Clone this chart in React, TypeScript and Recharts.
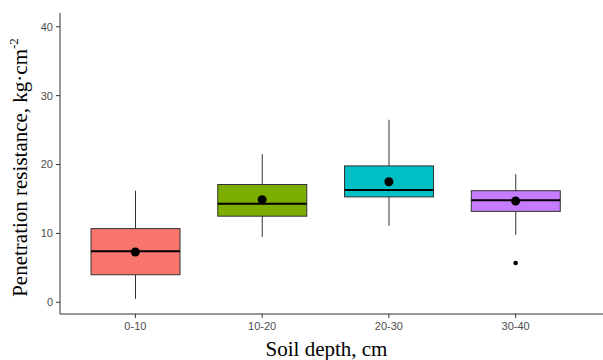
import React from "react";
import {
  ComposedChart,
  Bar,
  Scatter,
  XAxis,
  YAxis,
  Label,
} from "recharts";

// soil depth classes
const depths = ["0-10", "10-20", "20-30", "30-40"];

// five-number summaries (kg·cm-2)
const whiskerLow = [0.5, 9.5, 11.1, 9.8];
const q1 = [4.0, 12.5, 15.3, 13.2];
const median = [7.4, 14.3, 16.3, 14.8];
const q3 = [10.7, 17.1, 19.8, 16.2];
const whiskerHigh = [16.2, 21.5, 26.5, 18.6];
const means = [7.3, 14.9, 17.5, 14.7];
const outliers: (number | null)[] = [null, null, null, 5.7];

const yTicks = [0, 10, 20, 30, 40];
const fills = ["#F8766D", "#7CAE00", "#00BFC4", "#C77CFF"];

const data = depths.map((d, i) => ({
  depth: d,
  range: [whiskerLow[i], whiskerHigh[i]],
  lo: whiskerLow[i],
  q1: q1[i],
  median: median[i],
  q3: q3[i],
  hi: whiskerHigh[i],
  mean: means[i],
  outlier: outliers[i],
  fill: fills[i],
}));

// draws whisker, box and median inside the bar's slot, using the bar's own pixel extent
const BoxShape = (props: any) => {
  const { x, y, width, height, payload } = props;
  if (x == null || y == null) return null;
  const top = Math.min(y, y + height);
  const bottom = Math.max(y, y + height);
  const ppu = (bottom - top) / (payload.hi - payload.lo);
  const toY = (v: number) => bottom - (v - payload.lo) * ppu;
  const cx = x + width / 2;
  return (
    <g>
      <line x1={cx} x2={cx} y1={toY(payload.hi)} y2={toY(payload.lo)} stroke="#333" strokeWidth={1} />
      <rect
        x={x}
        y={toY(payload.q3)}
        width={width}
        height={toY(payload.q1) - toY(payload.q3)}
        fill={payload.fill}
        stroke="#333"
        strokeWidth={1}
      />
      <line x1={x} x2={x + width} y1={toY(payload.median)} y2={toY(payload.median)} stroke="#000" strokeWidth={2} />
    </g>
  );
};

const MeanDot = (props: any) => {
  const { cx, cy } = props;
  if (cx == null || cy == null || isNaN(cy)) return null;
  return <circle cx={cx} cy={cy} r={4.5} fill="#000" />;
};

const OutlierDot = (props: any) => {
  const { cx, cy, payload } = props;
  if (payload == null || payload.outlier == null || cy == null || isNaN(cy)) return null;
  return <circle cx={cx} cy={cy} r={2.3} fill="#000" />;
};

const YLabel = (props: any) => {
  const { viewBox } = props;
  const cy = viewBox.y + viewBox.height / 2 + 4;
  return (
    <text
      x={0}
      y={0}
      transform={`translate(27, ${cy}) rotate(-90)`}
      textAnchor="middle"
      fontFamily="'Liberation Serif', serif"
      fontSize={21}
      fill="#000"
    >
      Penetration resistance, kg·cm
      <tspan fontSize={13} dy={-9}>-2</tspan>
    </text>
  );
};

const tickStyle = { fontFamily: "'Liberation Sans', Arial, sans-serif", fontSize: 11, fill: "#4d4d4d" };

export default function App() {
  return (
    <div style={{ position: "absolute", left: 0, top: 0, background: "#fff" }}>
      <ComposedChart
        width={603}
        height={360}
        data={data}
        margin={{ top: 13, right: 0, left: 0, bottom: 0 }}
        barCategoryGap="15%"
      >
        <XAxis
          dataKey="depth"
          height={46}
          padding={{ left: 12, right: 24 }}
          tickSize={4}
          tickMargin={4}
          tick={tickStyle}
          stroke="#333"
          axisLine={{ stroke: "#333", strokeWidth: 1 }}
          tickLine={{ stroke: "#333" }}
        >
          <Label
            value="Soil depth, cm"
            position="insideBottom"
            dx={-5}
            offset={4}
            style={{ fontFamily: "'Liberation Serif', serif", fontSize: 21, fill: "#000" }}
          />
        </XAxis>
        <YAxis
          type="number"
          width={60}
          domain={[-1.7, 42]}
          ticks={yTicks}
          allowDataOverflow
          tickSize={4}
          tickMargin={3}
          tick={tickStyle}
          axisLine={{ stroke: "#333", strokeWidth: 1 }}
          tickLine={{ stroke: "#333" }}
          label={<YLabel />}
        />
        <Bar dataKey="range" shape={<BoxShape />} isAnimationActive={false} />
        <Scatter dataKey="mean" shape={<MeanDot />} isAnimationActive={false} />
        <Scatter dataKey="outlier" shape={<OutlierDot />} isAnimationActive={false} />
      </ComposedChart>
    </div>
  );
}
